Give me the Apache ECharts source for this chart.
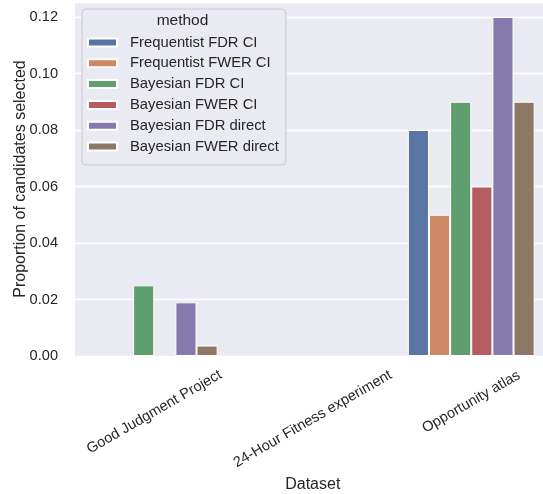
<!DOCTYPE html>
<html>
<head>
<meta charset="utf-8">
<script src="https://cdn.jsdelivr.net/npm/echarts@6/dist/echarts.min.js"></script>
<style>html,body{margin:0;padding:0;background:#fff}#c{width:543px;height:494px}</style>
</head>
<body>
<div id="c"></div>
<script>
const datasets = ["Good Judgment Project", "24-Hour Fitness experiment", "Opportunity atlas"];
const methods = ["Frequentist FDR CI", "Frequentist FWER CI", "Bayesian FDR CI", "Bayesian FWER CI", "Bayesian FDR direct", "Bayesian FWER direct"];
const freqFdrCI = [0, 0, 0.08];
const freqFwerCI = [0, 0, 0.05];
const bayesFdrCI = [0.025, 0, 0.09];
const bayesFwerCI = [0, 0, 0.06];
const bayesFdrDirect = [0.019, 0, 0.12];
const bayesFwerDirect = [0.0037, 0, 0.09];
const yTicks = [0, 0.02, 0.04, 0.06, 0.08, 0.10, 0.12];

const values = [freqFdrCI, freqFwerCI, bayesFdrCI, bayesFwerCI, bayesFdrDirect, bayesFwerDirect];
const colors = ["#5875A4", "#CC8963", "#5F9E6E", "#B55D60", "#857AAB", "#8D7866"];
const FONT = '"Liberation Sans", Arial, sans-serif';
const TXT = '#262626';
// per-label distance from the axis (matplotlib centres rotated labels by their top)
const labelMargins = [56, 63, 46];

function xAxisFor(k) {
  return {
    type: 'category', data: datasets, gridIndex: 0, position: 'bottom', offset: 0,
    name: k === 0 ? 'Dataset' : '', nameLocation: 'middle', nameGap: 121,
    nameTextStyle: {fontSize: 16, color: TXT, fontFamily: FONT},
    axisLine: {show: false}, axisTick: {show: false}, splitLine: {show: false},
    axisLabel: {
      rotate: 30, align: 'center', verticalAlign: 'middle', margin: labelMargins[k],
      fontSize: 14.6, color: TXT, fontFamily: FONT, interval: 0,
      formatter: (v, idx) => idx === k ? v : ''
    }
  };
}

const chart = echarts.init(document.getElementById('c'), null, {renderer: 'canvas'});
chart.setOption({
  animation: false,
  backgroundColor: '#ffffff',
  textStyle: {fontFamily: FONT},
  grid: {left: 75, top: 2, right: -7.5, bottom: 138, show: true, backgroundColor: '#EAEAF2', borderWidth: 0, containLabel: false, outerBoundsMode: 'none'},
  legend: {
    orient: 'vertical', left: 82, top: 9,
    padding: [26, 7, 11, 5],
    itemWidth: 29, itemHeight: 8, itemGap: 5.8,
    icon: 'rect',
    backgroundColor: '#EAEAF2', borderColor: '#CCCCCC', borderWidth: 1, borderRadius: 4,
    textStyle: {fontSize: 14.8, color: TXT, fontFamily: FONT, lineHeight: 14, height: 14, padding: [0, 0, 0, 8]},
    data: methods
  },
  graphic: [{
    type: 'text', x: 182.5, y: 21, z: 100,
    style: {text: 'method', fontSize: 15.5, fill: TXT, fontFamily: FONT, align: 'center', verticalAlign: 'middle'}
  }],
  xAxis: [xAxisFor(0), xAxisFor(1), xAxisFor(2)],
  yAxis: {
    type: 'value', min: 0, max: 0.1253, interval: 0.02,
    name: 'Proportion of candidates selected', nameLocation: 'middle', nameGap: 46, nameMoveOverlap: false,
    nameTextStyle: {fontSize: 16, color: TXT, fontFamily: FONT},
    axisLine: {show: false}, axisTick: {show: false},
    splitLine: {show: true, lineStyle: {color: '#ffffff', width: 1.3}},
    axisLabel: {
      margin: 17, fontSize: 14.6, color: TXT, fontFamily: FONT,
      formatter: v => yTicks.some(t => Math.abs(t - v) < 1e-9) ? v.toFixed(2) : ''
    }
  },
  series: methods.map((m, i) => ({
    name: m, type: 'bar', xAxisIndex: 0,
    data: values[i].map(v => v === 0 ? '-' : v),
    barGap: '0%', barCategoryGap: '20%',
    itemStyle: {color: colors[i], borderColor: '#ffffff', borderWidth: 1}
  }))
});
</script>
</body>
</html>
